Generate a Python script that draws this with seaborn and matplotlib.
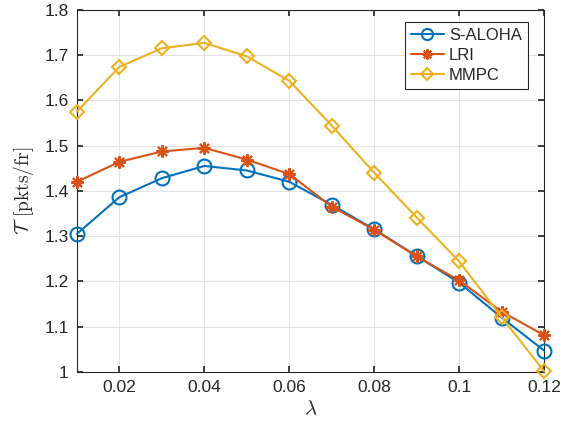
import numpy as np
import pandas as pd
import seaborn as sns
import matplotlib.pyplot as plt
from matplotlib.ticker import FuncFormatter

# 데이터
lam = [0.01, 0.02, 0.03, 0.04, 0.05, 0.06, 0.07, 0.08, 0.09, 0.10, 0.11, 0.12]
s_aloha = [1.305, 1.386, 1.428, 1.455, 1.445, 1.420, 1.369, 1.315, 1.256, 1.197, 1.120, 1.047]
lri = [1.420, 1.464, 1.487, 1.495, 1.469, 1.437, 1.365, 1.314, 1.255, 1.202, 1.133, 1.081]
mmpc = [1.575, 1.674, 1.715, 1.727, 1.697, 1.643, 1.544, 1.440, 1.341, 1.244, 1.121, 1.001]

names = ["S-ALOHA", "LRI", "MMPC"]
colors = ["#0072BD", "#D95319", "#EDB120"]

sns.set_theme(style="whitegrid", rc={
    "axes.edgecolor": "#262626",
    "axes.linewidth": 0.8,
    "grid.color": "#e3e3e3",
    "grid.linewidth": 0.8,
    "xtick.direction": "in",
    "ytick.direction": "in",
    "xtick.top": True,
    "ytick.right": True,
    "xtick.bottom": True,
    "ytick.left": True,
    "xtick.major.size": 4,
    "ytick.major.size": 4,
    "xtick.color": "#262626",
    "ytick.color": "#262626",
    "mathtext.fontset": "cm",
})
plt.rcParams["font.family"] = ["Liberation Sans", "DejaVu Sans"]

fig = plt.figure(figsize=(5.74, 4.26), dpi=100)
ax = fig.add_axes([0.134, 0.127, 0.814, 0.85])

df = pd.DataFrame({"lam": lam, "S-ALOHA": s_aloha, "LRI": lri, "MMPC": mmpc})
markers = {"S-ALOHA": ("o", 10), "LRI": ((8, 2, 0), 9), "MMPC": ("D", 7.2)}

for name, c in zip(names, colors):
    m, ms = markers[name]
    sns.lineplot(data=df, x="lam", y=name, ax=ax, color=c, marker=m,
                 markersize=ms, markerfacecolor="none", markeredgecolor=c,
                 markeredgewidth=1.5, linewidth=1.5, label=name, clip_on=False,
                 zorder=3)

ax.set_xlim(0.01, 0.12)
ax.set_ylim(1.0, 1.8)
ax.set_xticks([0.02, 0.04, 0.06, 0.08, 0.10, 0.12])
ax.set_yticks(np.round(np.arange(1.0, 1.81, 0.1), 1))
ax.xaxis.set_major_formatter(FuncFormatter(lambda v, p: f"{v:g}"))
ax.yaxis.set_major_formatter(FuncFormatter(lambda v, p: f"{v:g}"))
ax.tick_params(labelsize=12.5, pad=6)
for s in ax.spines.values():
    s.set_visible(True)
    s.set_color("#262626")

ax.set_xlabel(r"$\lambda$", fontsize=15, labelpad=3)
ax.set_ylabel(r"$\mathcal{T}\;\,\mathrm{[pkts/fr]}$", fontsize=14, labelpad=6)

leg = ax.legend(loc="upper right", bbox_to_anchor=(0.965, 0.965), fontsize=12,
                frameon=True, fancybox=False, framealpha=1, edgecolor="#262626",
                handlelength=2.0, handletextpad=0.3, borderpad=0.35,
                labelspacing=0.3, borderaxespad=0)
leg.get_frame().set_linewidth(0.8)
for h in leg.legend_handles:
    h.set_markersize(h.get_markersize() * 0.8)

fig.savefig("out.png", dpi=100)
